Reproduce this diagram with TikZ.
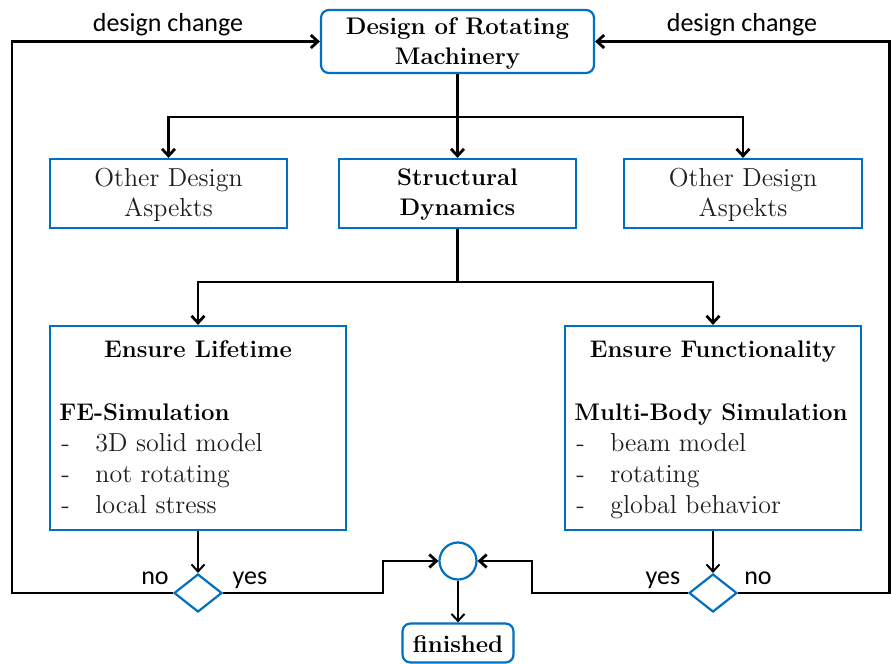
\documentclass[tikz,border=0pt]{standalone}
\usepackage{fontspec}
\newfontfamily\labelfont{Carlito}
\usetikzlibrary{arrows.meta,shapes.geometric,calc}
\definecolor{boxblue}{RGB}{0,112,192}
\definecolor{softtext}{RGB}{30,30,30}
\begin{document}
\begin{tikzpicture}[x=0.5pt,y=-0.5pt,
  box/.style={draw=boxblue, line width=1.1pt, rectangle, inner sep=0pt},
  rbox/.style={box, rounded corners=4pt},
  title/.style={font=\fontsize{12}{15}\selectfont\bfseries, align=center, inner sep=0pt},
  plain/.style={font=\fontsize{13}{15}\selectfont, text=softtext, align=center, inner sep=0pt},
  item/.style={font=\fontsize{13}{15}\selectfont, text=softtext, anchor=base west, inner sep=0pt},
  head/.style={font=\fontsize{12}{15}\selectfont\bfseries, anchor=base west, inner sep=0pt},
  lbl/.style={font=\labelfont\fontsize{13}{15}\selectfont, anchor=base, inner sep=0pt},
  tip/.style={-{Straight Barb[length=3.5pt,width=6.5pt]}},
  main/.style={line width=1.4pt},
  thin/.style={line width=1pt},
  decide/.style={diamond, draw=boxblue, line width=1.1pt, inner sep=0pt, minimum width=24pt, minimum height=19pt},
]
\useasboundingbox (0,0) rectangle (891,664);

% top-level design box
\node[rbox, minimum width=136.5pt, minimum height=31.5pt] (top) at (457.5,41.5) {};
\node[title] (toptext) at (457.5,43) {Design of Rotating\\Machinery};

% second row
\node[box, minimum width=118.5pt, minimum height=34.5pt] (odl) at (168.5,193.5) {};
\node[plain] (odltext) at (168.5,195) {Other Design\\Aspekts};
\node[box, minimum width=118.5pt, minimum height=34.5pt] (sd) at (457.5,193.5) {};
\node[title] (sdtext) at (457.5,195) {Structural\\Dynamics};
\node[box, minimum width=119pt, minimum height=34.5pt] (odr) at (743,193.5) {};
\node[plain] (odrtext) at (743,195) {Other Design\\Aspekts};

% lifetime box
\node[box, minimum width=148pt, minimum height=102pt] (el) at (198,428) {};
\node[title, anchor=base] (elt) at (198,357) {Ensure Lifetime};
\node[head] (elh) at (59,420) {FE-Simulation};
\node[item] (el1d) at (61,451) {-};
\node[item] (el1) at (95,451) {3D solid model};
\node[item] (el2d) at (61,482) {-};
\node[item] (el2) at (95,482) {not rotating};
\node[item] (el3d) at (61,513) {-};
\node[item] (el3) at (95,513) {local stress};

% functionality box
\node[box, minimum width=148pt, minimum height=102pt] (ef) at (713,428) {};
\node[title, anchor=base] (eft) at (713,357) {Ensure Functionality};
\node[head] (efh) at (574,420) {Multi-Body Simulation};
\node[item] (ef1d) at (576,451) {-};
\node[item] (ef1) at (610,451) {beam model};
\node[item] (ef2d) at (576,482) {-};
\node[item] (ef2) at (610,482) {rotating};
\node[item] (ef3d) at (576,513) {-};
\node[item] (ef3) at (610,513) {global behavior};

% decisions, merge point and end
\node[decide] (dl) at (198,593) {};
\node[decide] (dr) at (713,593) {};
\node[circle, draw=boxblue, line width=1.1pt, minimum size=18.5pt, inner sep=0pt] (merge) at (458,561) {};
\node[rbox, minimum width=55.5pt, minimum height=19.5pt] (fin) at (458,643) {};
\node[title] (fintext) at (458,644) {finished};

% labels
\node[lbl] (dcl) at (168,32) {design change};
\node[lbl] (dcr) at (742,32) {design change};
\node[lbl] (nol) at (155,584) {no};
\node[lbl] (yesl) at (250,584) {yes};
\node[lbl] (yesr) at (663,584) {yes};
\node[lbl] (nor) at (758,584) {no};

% junction points
\coordinate (j1) at (457.5,117);
\coordinate (j2) at (457.5,282);
\coordinate (loopL) at (12,0);
\coordinate (loopR) at (889.5,0);
\coordinate (yl) at (383,561);
\coordinate (yr) at (532,561);

% connectors
\draw[main] (top.south) -- (j1);
\draw[main,tip] (j1) -| (odl.north);
\draw[main,tip] (j1) -- (sd.north);
\draw[main,tip] (j1) -| (odr.north);
\draw[main] (sd.south) -- (j2);
\draw[main,tip] (j2) -| (el.north);
\draw[main,tip] (j2) -| (ef.north);
\draw[thin,tip] (el.south) -- (dl.north);
\draw[thin,tip] (ef.south) -- (dr.north);
\draw[main,tip] (dl.west) -| (loopL |- top.west) -- (top.west);
\draw[main,tip] (dr.east) -| (loopR |- top.east) -- (top.east);
\draw[main,tip] (dl.east) -| (yl) -- (merge.west);
\draw[main,tip] (dr.west) -| (yr) -- (merge.east);
\draw[thin,tip] (merge.south) -- (fin.north);
\end{tikzpicture}
\end{document}
